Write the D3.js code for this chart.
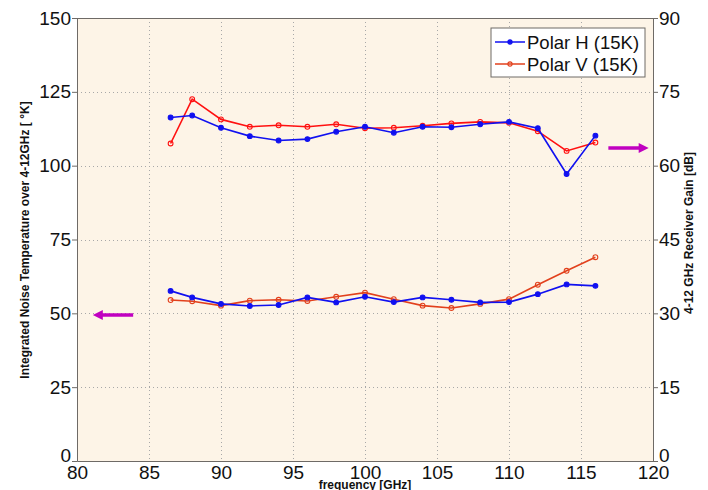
<!DOCTYPE html>
<html>
<head>
<meta charset="utf-8">
<script src="https://cdn.jsdelivr.net/npm/d3@7/dist/d3.min.js"></script>
<style>
  html, body { margin: 0; padding: 0; background: #fff; }
  svg { display: block; font-family: "Liberation Sans", Arial, sans-serif; }
</style>
</head>
<body>
<svg id="chart" width="708" height="490"></svg>
<script>
// Frequency points (GHz)
const freq = [86.5, 88, 90, 92, 94, 96, 98, 100, 102, 104, 106, 108, 110, 112, 114, 116];

// Receiver gain over 4-12 GHz (dB, right axis)
const gainH = [69.8, 70.2, 67.7, 66.0, 65.1, 65.4, 66.9, 67.9, 66.7, 67.9, 67.8, 68.4, 68.9, 67.6, 58.3, 66.1];
const gainV = [64.5, 73.5, 69.4, 67.9, 68.2, 67.9, 68.4, 67.6, 67.7, 68.1, 68.6, 68.9, 68.7, 67.0, 63.0, 64.7];

// Integrated noise temperature over 4-12 GHz (K, left axis)
const noiseH = [57.6, 55.4, 53.2, 52.5, 52.8, 55.4, 53.7, 55.6, 53.8, 55.4, 54.6, 53.7, 53.8, 56.5, 59.8, 59.3];
const noiseV = [54.5, 54.1, 52.6, 54.3, 54.6, 54.2, 55.6, 57.0, 54.8, 52.6, 51.8, 53.2, 54.8, 59.7, 64.4, 69.0];

// Axis ticks
const xTicks = [80, 85, 90, 95, 100, 105, 110, 115, 120];
const leftTicks = [0, 25, 50, 75, 100, 125, 150];
const rightTicks = [0, 15, 30, 45, 60, 75, 90];

const legendLabels = ["Polar H (15K)", "Polar V (15K)"];

const colBlue = "#1010f0";
const colRed = "#ff1010";
const colOrange = "#e2401c";
const axisCol = "#6e6a66";

const svg = d3.select("#chart");
const L = 77, R = 653, T = 18, B = 461;

const x = d3.scaleLinear().domain([80, 120]).range([L, R]);
const yL = d3.scaleLinear().domain([0, 150]).range([B, T]);
const yR = d3.scaleLinear().domain([0, 90]).range([B, T]);

// plot background
svg.append("rect").attr("x", L).attr("y", T).attr("width", R - L).attr("height", B - T)
  .attr("fill", "#fdf4e7");

// dotted grid
const grid = svg.append("g").attr("stroke", "#a8a8a8").attr("stroke-width", 1)
  .attr("stroke-dasharray", "1,3");
grid.selectAll(".gx").data(xTicks.slice(1, -1)).join("line")
  .attr("x1", d => Math.round(x(d)) + 0.5).attr("x2", d => Math.round(x(d)) + 0.5)
  .attr("y1", T).attr("y2", B);
grid.selectAll(".gy").data(leftTicks.slice(1, -1)).join("line")
  .attr("y1", d => Math.round(yL(d)) + 0.5).attr("y2", d => Math.round(yL(d)) + 0.5)
  .attr("x1", L).attr("x2", R);

// axes
const axFont = g => g.selectAll("text").attr("font-size", 19).attr("fill", "#111")
  .attr("font-family", "'Liberation Sans', Arial, sans-serif");
const axStroke = g => { g.select(".domain").attr("stroke", axisCol); g.selectAll(".tick line").attr("stroke", axisCol); };
// lift the zero labels a little so they sit above the frequency labels
const liftZero = g => g.selectAll(".tick").filter(d => d === 0).select("text").attr("dy", "0.05em");

svg.append("g").attr("transform", `translate(0,${B})`)
  .call(d3.axisBottom(x).tickValues(xTicks).tickSize(0).tickPadding(5).tickFormat(d3.format("d")))
  .call(axFont).call(axStroke);
svg.append("g").attr("transform", `translate(${L},0)`)
  .call(d3.axisLeft(yL).tickValues(leftTicks).tickSize(5).tickPadding(1).tickFormat(d3.format("d")))
  .call(axFont).call(axStroke).call(liftZero);
svg.append("g").attr("transform", `translate(${R},0)`)
  .call(d3.axisRight(yR).tickValues(rightTicks).tickSize(5).tickPadding(1).tickFormat(d3.format("d")))
  .call(axFont).call(axStroke).call(liftZero);
svg.append("line").attr("x1", L).attr("x2", R).attr("y1", T + 0.5).attr("y2", T + 0.5).attr("stroke", axisCol);

// series
function series(vals, yScale, color, filled) {
  const pts = freq.map((f, i) => [f, vals[i]]);
  const line = d3.line().x(d => x(d[0])).y(d => yScale(d[1]));
  svg.append("path").datum(pts).attr("d", line).attr("fill", "none")
    .attr("stroke", color).attr("stroke-width", 1.6);
  svg.append("g").selectAll("circle").data(pts).join("circle")
    .attr("cx", d => x(d[0])).attr("cy", d => yScale(d[1]))
    .attr("r", filled ? 2.4 : 2.4)
    .attr("fill", filled ? color : "none")
    .attr("stroke", color).attr("stroke-width", 1.1);
}
series(gainV, yR, colRed, false);
series(gainH, yR, colBlue, true);
series(noiseV, yL, colOrange, false);
series(noiseH, yL, colBlue, true);

// arrows indicating which axis each pair of curves uses
const arrowCol = "#c000c0";
function arrow(f0, f1, yv, yScale) {
  const x0 = x(f0), x1 = x(f1), yy = yScale(yv);
  const dir = Math.sign(x1 - x0);
  svg.append("line").attr("x1", x0).attr("x2", x1 - dir * 8).attr("y1", yy).attr("y2", yy)
    .attr("stroke", arrowCol).attr("stroke-width", 3.5);
  svg.append("path")
    .attr("d", `M${x1},${yy} L${x1 - dir * 10},${yy - 5} L${x1 - dir * 10},${yy + 5} Z`)
    .attr("fill", arrowCol);
}
arrow(83.9, 81.1, 49.4, yL);
arrow(116.9, 119.7, 63.6, yR);

// legend
const lg = svg.append("g").attr("transform", "translate(491,28)");
lg.append("rect").attr("width", 154).attr("height", 49).attr("fill", "#fff")
  .attr("stroke", axisCol).attr("stroke-width", 1);
const lgCols = [colBlue, colOrange];
legendLabels.forEach((t, i) => {
  const yy = 14 + i * 22;
  lg.append("line").attr("x1", 4).attr("x2", 34).attr("y1", yy).attr("y2", yy)
    .attr("stroke", lgCols[i]).attr("stroke-width", 1.5);
  lg.append("circle").attr("cx", 19).attr("cy", yy).attr("r", 2.1)
    .attr("fill", i === 0 ? lgCols[i] : "none").attr("stroke", lgCols[i]).attr("stroke-width", 1.1);
  lg.append("text").attr("x", 36).attr("y", yy + 6.5).attr("font-size", 18.5).attr("fill", "#111").text(t);
});

// axis titles
svg.append("text").attr("transform", `translate(29,240) rotate(-90)`)
  .attr("text-anchor", "middle").attr("font-size", 12).attr("font-weight", "bold").attr("fill", "#111")
  .text("Integrated Noise Temperature over 4-12GHz [ °K]");
svg.append("text").attr("transform", `translate(693,233) rotate(-90)`)
  .attr("text-anchor", "middle").attr("font-size", 12).attr("font-weight", "bold").attr("fill", "#111")
  .text("4-12 GHz Receiver Gain [dB]");
svg.append("text").attr("x", (L + R) / 2).attr("y", 489).attr("text-anchor", "middle")
  .attr("font-size", 12).attr("font-weight", "bold").attr("fill", "#111")
  .text("frequency [GHz]");
</script>
</body>
</html>
